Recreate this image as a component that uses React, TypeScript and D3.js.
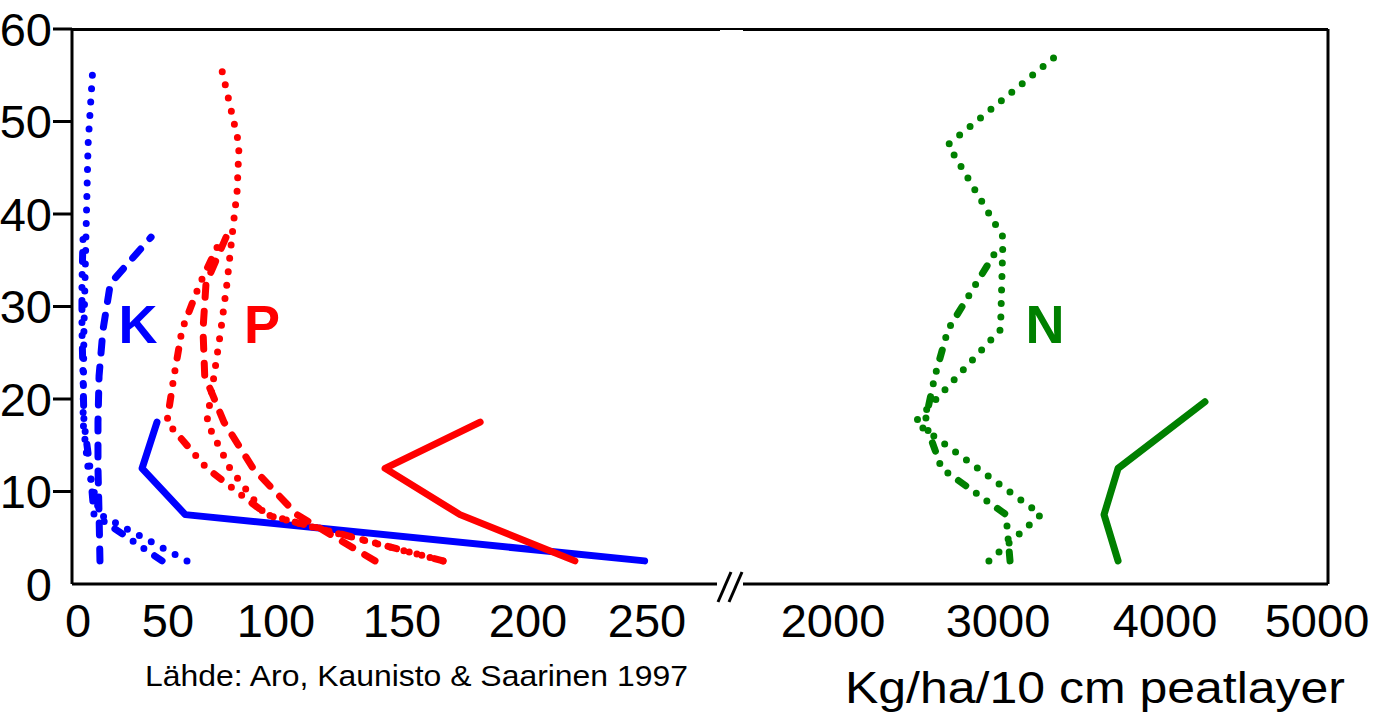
import * as React from "react";
import * as d3 from "d3";

// depth of the 10 cm layer mid points (cm)
const depth4 = [2.5, 7.5, 12.5, 17.5];
const depth8 = [2.5, 7.5, 12.5, 17.5, 22.5, 27.5, 32.5, 37.5];
const depthKLong = [2.5, 7.5, 12.5, 17.5, 27.5, 37.5, 47.5, 56];
const depthPLong = [2.5, 7.5, 12.5, 17.5, 22.5, 27.5, 32.5, 37.5, 42.5, 47.5, 56];
const depthNSolid = [2.5, 7.5, 12.5, 19.7];
const depthNDot = [2.5, 7.5, 17.5, 27.5, 37.5, 47.5, 57];
const depthNDash = [2.5, 7.5, 12.5, 17.5, 22.5, 27.5, 36.5];

// K (kg/ha)
const kSolid = [249, 58, 35.6, 43.9];
const kDashed = [12.2, 11.7, 11.1, 11.1, 11.7, 13.9, 18, 40.6];
const kDotted = [58.8, 12.2, 5.6, 2.8, 3.3, 4.4, 5.6, 8.3];
const kDashDot = [46.7, 8.9, 6.7, 3.3, 2.8, 2.2, 2.2, 2.8];

// P (kg/ha)
const pSolid = [219.7, 173, 143.3, 181];
const pDashed = [139.3, 108.3, 89.4, 75.9, 67, 66.2, 67.6, 76.9];
const pDashDot = [166.3, 95.8, 68, 49.4, 52.8, 56.5, 64.8, 75];
const pDotted = [166.3, 95, 78.7, 68, 71.3, 74.5, 77.3, 79.6, 82, 82.9, 74.5];

// N (kg/ha)
const nSolid = [3719, 3635, 3719, 4263];
const nDotted = [2945, 3257, 2497, 3015, 3030, 2697, 3341];
const nDashDot = [3072, 3048, 2658, 2558, 2618, 2697, 3006];

const leftTicks = [0, 50, 100, 150, 200, 250];
const rightTicks = [2000, 3000, 4000, 5000];
const yTicks = [0, 10, 20, 30, 40, 50, 60];

const FONT = "'Liberation Sans', Arial, sans-serif";
const DOT = "0 13.5";
const DASH = "12 14";
const DASHDOT = "9 13 0 13 0 13";

export default function App() {
  const y = d3.scaleLinear().domain([0, 60]).range([584, 29]);
  // the original axis labels are not evenly spaced, so the scales are polylinear
  const xLeft = d3.scaleLinear().domain(leftTicks).range([78, 168, 276, 402, 528, 647]);
  const xRight = d3.scaleLinear().domain(rightTicks).range([833, 998, 1165, 1317]);

  const series = [
    { d: depth4, v: kSolid, x: xLeft, c: "#0000ff", dash: undefined },
    { d: depth8, v: kDashed, x: xLeft, c: "#0000ff", dash: DASH },
    { d: depthKLong, v: kDotted, x: xLeft, c: "#0000ff", dash: DOT },
    { d: depth8, v: kDashDot, x: xLeft, c: "#0000ff", dash: DASHDOT },
    { d: depth4, v: pSolid, x: xLeft, c: "#ff0000", dash: undefined },
    { d: depth8, v: pDashed, x: xLeft, c: "#ff0000", dash: DASH },
    { d: depth8, v: pDashDot, x: xLeft, c: "#ff0000", dash: DASHDOT },
    { d: depthPLong, v: pDotted, x: xLeft, c: "#ff0000", dash: DOT },
    { d: depthNSolid, v: nSolid, x: xRight, c: "#008000", dash: undefined },
    { d: depthNDot, v: nDotted, x: xRight, c: "#008000", dash: DOT },
    { d: depthNDash, v: nDashDot, x: xRight, c: "#008000", dash: DASHDOT },
  ];

  const lines = series.map((s, i) => {
    const pts = s.d.map((dep, j) => [s.x(s.v[j]), y(dep)] as [number, number]);
    const path = d3.line()(pts);
    return (
      <path
        key={i}
        d={path || ""}
        fill="none"
        stroke={s.c}
        strokeWidth={7}
        strokeLinecap="round"
        strokeLinejoin="round"
        strokeDasharray={s.dash}
      />
    );
  });

  const x0 = 72, x1 = 1328, y0 = y(0), y1 = y(60);

  return (
    <svg
      width={1373}
      height={720}
      style={{ position: "absolute", left: 0, top: 0, background: "#fff" }}
      fontFamily={FONT}
    >
      {/* frame */}
      <line x1={x0} x2={x1} y1={y1} y2={y1} stroke="#000" strokeWidth={2} />
      <line x1={x0} x2={720} y1={y1 + 0.5} y2={y1 + 0.5} stroke="#000" strokeWidth={3} />
      <line x1={743} x2={x1} y1={y1 + 0.5} y2={y1 + 0.5} stroke="#000" strokeWidth={3} />
      <line x1={x0} x2={x0} y1={y1} y2={y0} stroke="#000" strokeWidth={3} />
      <line x1={x1} x2={x1} y1={y1} y2={y0} stroke="#000" strokeWidth={3} />
      <line x1={x0} x2={717} y1={y0} y2={y0} stroke="#000" strokeWidth={3} />
      <line x1={743} x2={x1} y1={y0} y2={y0} stroke="#000" strokeWidth={3} />
      {/* axis break */}
      <line x1={718} x2={731} y1={602} y2={572} stroke="#000" strokeWidth={3} />
      <line x1={729} x2={742} y1={602} y2={572} stroke="#000" strokeWidth={3} />

      {/* y ticks */}
      {yTicks.map((t) => (
        <g key={t}>
          {t > 0 && <line x1={53} x2={x0} y1={y(t)} y2={y(t)} stroke="#000" strokeWidth={3} />}
          <text x={52} y={y(t)} dy="0.36em" textAnchor="end" fontSize={47}>
            {t}
          </text>
        </g>
      ))}

      {/* x tick labels */}
      {leftTicks.map((t) => (
        <text key={"l" + t} x={xLeft(t)} y={637} textAnchor="middle" fontSize={47}>
          {t}
        </text>
      ))}
      {rightTicks.map((t) => (
        <text key={"r" + t} x={xRight(t)} y={637} textAnchor="middle" fontSize={47}>
          {t}
        </text>
      ))}

      {lines}

      {/* series labels */}
      <text x={138} y={343} textAnchor="middle" fontSize={54} fontWeight="bold" fill="#0000ff">K</text>
      <text x={262} y={343} textAnchor="middle" fontSize={54} fontWeight="bold" fill="#ff0000">P</text>
      <text x={1045} y={343} textAnchor="middle" fontSize={54} fontWeight="bold" fill="#008000">N</text>

      <text x={145} y={686} fontSize={30} textLength={543} lengthAdjust="spacingAndGlyphs">
        Lähde: Aro, Kaunisto &amp; Saarinen 1997
      </text>
      <text x={845} y={703} fontSize={44} textLength={500} lengthAdjust="spacingAndGlyphs">
        Kg/ha/10 cm peatlayer
      </text>
    </svg>
  );
}
